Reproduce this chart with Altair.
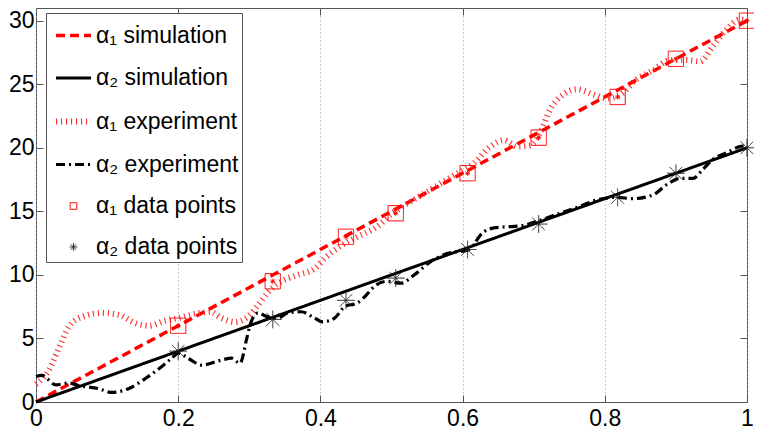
import altair as alt
import pandas as pd

# ---------------- data ----------------
series = ["α₁ simulation", "α₂ simulation", "α₁ experiment", "α₂ experiment",
          "α₁ data points", "α₂ data points"]

sim_x = [0.0, 1.0]
sim_a1 = [0.0, 30.0]
sim_a2 = [0.0, 20.0]

exp1_x = [0.0, 0.018, 0.035, 0.046, 0.065, 0.093, 0.117, 0.14, 0.159, 0.182, 0.2,
          0.23, 0.245, 0.261, 0.28, 0.298, 0.312, 0.326, 0.34, 0.368, 0.392, 0.406,
          0.429, 0.452, 0.48, 0.5, 0.522, 0.546, 0.569, 0.593, 0.616, 0.639, 0.658,
          0.677, 0.695, 0.709, 0.723, 0.742, 0.761, 0.784, 0.803, 0.822, 0.845, 0.868,
          0.892, 0.915, 0.934, 0.952, 0.971, 0.99, 1.0]
exp1_y = [1.4, 2.5, 4.6, 5.9, 6.7, 7.0, 6.85, 6.2, 6.0, 6.4, 6.6,
          7.0, 7.1, 6.6, 6.3, 6.7, 7.6, 8.6, 9.3, 10.0, 10.5, 11.3,
          12.3, 13.0, 13.8, 14.8, 15.6, 16.4, 17.2, 18.0, 18.8, 20.1, 20.6,
          20.1, 20.2, 21.2, 23.0, 24.2, 24.6, 24.2, 23.9, 24.2, 25.4, 26.1,
          26.9, 26.9, 26.8, 28.0, 29.3, 30.1, 30.0]

exp2_x = [0.0, 0.008, 0.028, 0.046, 0.06, 0.088, 0.107, 0.13, 0.154, 0.177, 0.191,
          0.2, 0.215, 0.233, 0.261, 0.275, 0.287, 0.296, 0.301, 0.312, 0.326, 0.34,
          0.354, 0.373, 0.392, 0.403, 0.42, 0.434, 0.452, 0.466, 0.476, 0.494, 0.513,
          0.532, 0.555, 0.579, 0.607, 0.63, 0.644, 0.667, 0.686, 0.709, 0.737, 0.765,
          0.789, 0.817, 0.84, 0.868, 0.887, 0.906, 0.924, 0.938, 0.952, 0.971, 0.99, 1.0]
exp2_y = [2.0, 2.1, 1.35, 1.5, 1.3, 1.05, 0.75, 1.05, 1.85, 2.8, 3.45,
          3.85, 3.4, 2.9, 3.3, 3.45, 3.05, 4.9, 6.05, 7.0, 6.7, 6.6,
          7.0, 7.1, 6.6, 6.3, 6.6, 7.5, 7.8, 8.5, 9.1, 9.5, 9.35,
          10.0, 11.05, 11.7, 11.95, 13.4, 13.7, 13.8, 13.9, 14.3, 14.85, 15.4,
          15.9, 16.1, 16.0, 16.3, 17.1, 17.6, 17.6, 18.3, 19.1, 19.6, 20.1, 20.2]

pts_x = [0.2, 0.333, 0.436, 0.506, 0.607, 0.707, 0.818, 0.9, 1.0]
pts_a1 = [6.0, 9.5, 13.0, 14.85, 18.0, 20.8, 24.0, 27.0, 30.0]
pts_a2 = [4.0, 6.5, 8.0, 9.75, 12.0, 14.0, 16.1, 18.0, 20.0]

x_ticks = [0, 0.2, 0.4, 0.6, 0.8, 1]
y_ticks = [0, 5, 10, 15, 20, 25, 30]

# ---------------- tables ----------------
sim_df = pd.concat([
    pd.DataFrame({"x": sim_x, "y": sim_a1, "series": series[0]}),
    pd.DataFrame({"x": sim_x, "y": sim_a2, "series": series[1]}),
])
exp_df = pd.concat([
    pd.DataFrame({"x": exp1_x, "y": exp1_y, "series": series[2]}),
    pd.DataFrame({"x": exp2_x, "y": exp2_y, "series": series[3]}),
])
pts_df = pd.concat([
    pd.DataFrame({"x": pts_x, "y": pts_a1, "series": series[4]}),
    pd.DataFrame({"x": pts_x, "y": pts_a2, "series": series[5]}),
])
pts1_df = pd.DataFrame({"x": pts_x, "y": pts_a1})

# ---------------- styles ----------------
W, H = 711, 394
LINE = "M-1,0H1"
SQUARE = "M-0.19,-0.19H0.19V0.19H-0.19Z"
ASTER = ("M0,-0.22V0.22M-0.22,0H0.22M-0.156,-0.156L0.156,0.156"
         "M-0.156,0.156L0.156,-0.156")
SMALL_ASTER = "M0,-1V1M-1,0H1M-0.7,-0.7L0.7,0.7M-0.7,0.7L0.7,-0.7"

colors = ["#ff0000", "#000000", "#ff2a2a", "#000000", "#ff0000", "#222222"]
dashes = [[9, 5], [1, 0], [1.1, 3.9], [9, 4, 2, 4], [1, 0], [1, 0]]
widths = [3.5, 3, 6, 3.2, 1, 1]
shapes = [LINE, LINE, LINE, LINE, SQUARE, ASTER]

xscale = alt.Scale(domain=[0, 1], nice=False, zero=False)
yscale = alt.Scale(domain=[0, 31], nice=False, zero=False)


def common(axis_x, axis_y, with_shape=False):
    d = dict(
        x=alt.X("x:Q", scale=xscale, axis=axis_x),
        y=alt.Y("y:Q", scale=yscale, axis=axis_y),
        color=alt.Color("series:N", scale=alt.Scale(domain=series, range=colors), title=None),
        strokeDash=alt.StrokeDash("series:N", scale=alt.Scale(domain=series, range=dashes), title=None),
        strokeWidth=alt.StrokeWidth("series:N", scale=alt.Scale(type="ordinal", domain=series, range=widths), title=None),
    )
    if with_shape:
        d["shape"] = alt.Shape("series:N", scale=alt.Scale(domain=series, range=shapes), title=None)
    return d


tick_common = dict(labels=False, domain=False, grid=False, ticks=True, tickSize=7,
                   tickColor="#555555", tickWidth=1, title=None)

main_x = alt.Axis(orient="bottom", values=x_ticks, format="~g", ticks=False, domain=False,
                  grid=True, gridDash=[1, 3], gridColor="#999999", gridWidth=1,
                  labelPadding=5, labelFlush=False, title=None)
main_y = alt.Axis(orient="left", values=y_ticks, ticks=False, domain=False, grid=False,
                  labelPadding=2, title=None)

sim = alt.Chart(sim_df).mark_line(strokeCap="butt").encode(**common(main_x, main_y))

exp = alt.Chart(exp_df).mark_line(strokeCap="butt", interpolate="monotone").encode(
    **common(alt.Axis(orient="top", offset=-H, values=x_ticks, **tick_common),
             alt.Axis(orient="right", offset=-W, values=y_ticks, **tick_common))
)

pts = alt.Chart(pts_df).mark_point(filled=False, size=6500, opacity=1).encode(
    **common(alt.Axis(orient="bottom", offset=-H, values=x_ticks, **tick_common),
             alt.Axis(orient="left", offset=-W, values=y_ticks, **tick_common),
             with_shape=True)
)

inner = alt.Chart(pts1_df).mark_point(filled=False, shape=SMALL_ASTER, size=25, color="#ff0000",
                                      strokeWidth=1, opacity=1).encode(
    x=alt.X("x:Q", scale=xscale, axis=None),
    y=alt.Y("y:Q", scale=yscale, axis=None),
)

chart = (
    alt.layer(sim, exp, pts, inner)
    .resolve_axis(x="independent", y="independent")
    .properties(width=W, height=H,
                autosize=alt.AutoSizeParams(type="none"),
                padding={"left": 28, "top": 0, "right": 7, "bottom": 29})
    .configure_view(stroke="#555555", strokeWidth=1)
    .configure_axis(labelFont="Liberation Sans", labelFontSize=23, labelColor="#000000")
    .configure_legend(orient="none", legendX=10, legendY=5, fillColor="#ffffff",
                      strokeColor="#555555", padding=3, labelFont="Liberation Sans",
                      labelFontSize=23, labelColor="#000000", labelLimit=400,
                      rowPadding=11, symbolSize=1225, symbolOffset=4, labelOffset=2)
)

chart.save("out.html", embed_options={"renderer": "svg", "actions": False})
